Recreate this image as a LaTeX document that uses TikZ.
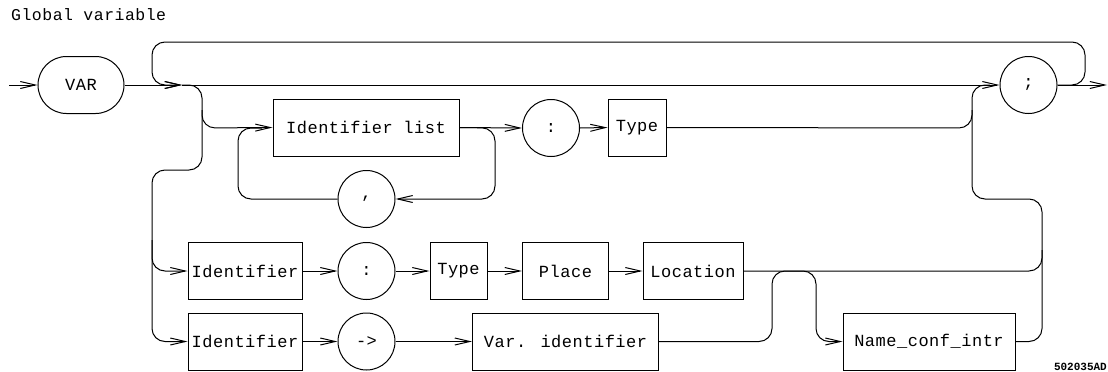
\documentclass[tikz,border=0pt]{standalone}
\usepackage{fontspec}
\newfontfamily\plotfont[LetterSpace=3]{Liberation Mono}
\newfontfamily\tagfont{Liberation Mono}
\usetikzlibrary{arrows.meta}

\tikzset{
  wire/.style={line width=1pt, rounded corners=13pt},
  flow/.style={wire, -{Straight Barb[length=15pt,width=7pt]}},
  term/.style={draw, line width=1pt, minimum height=57pt, inner sep=0pt,
               font=\plotfont\fontsize{17}{17}\selectfont},
  boxnode/.style={term, rectangle},
  ringnode/.style={term, circle, minimum size=57pt},
  capnode/.style={term, rectangle, rounded corners=28.5pt},
}

\begin{document}
\begin{tikzpicture}[x=1pt, y=-1pt]
\useasboundingbox (0,0) rectangle (1108,372);

% heading and tag
\node[anchor=base west, inner sep=0pt, font=\plotfont\fontsize{16.5}{16.5}\selectfont]
  (title) at (11,20.5) {Global variable};
\node[anchor=base east, inner sep=0pt, font=\tagfont\bfseries\fontsize{11}{11}\selectfont]
  (tag) at (1107,370) {502035AD};

% terminals and nonterminals
\node[capnode, minimum width=86pt] (var) at (81,85) {VAR};
\node[boxnode, minimum width=186pt] (idlist) at (366,127.5) {Identifier list};
\node[ringnode] (colA) at (551,128) {:};
\node[boxnode, minimum width=58pt] (typeA) at (637,127.5) {Type};
\node[ringnode] (comma) at (366.5,199) {,};
\node[ringnode] (semi) at (1028.5,85) {;};
\node[boxnode, minimum width=114pt] (idB) at (245,271) {Identifier};
\node[ringnode] (colB) at (366.5,271) {:};
\node[boxnode, minimum width=57pt] (typeB) at (458.5,271) {Type};
\node[boxnode, minimum width=86pt] (place) at (565.5,271) {Place};
\node[boxnode, minimum width=100pt] (loc) at (693,271) {Location};
\node[boxnode, minimum width=114pt] (idC) at (245,341.5) {Identifier};
\node[ringnode] (deref) at (366.5,341.5) {->};
\node[boxnode, minimum width=186pt] (varid) at (565.5,341.5) {Var. identifier};
\node[boxnode, minimum width=172pt] (nci) at (929,341.5) {Name\_conf\_intr};

\coordinate (start) at (9,85);
\coordinate (j0) at (182,85);
\coordinate (finish) at (1107,85);

% main line
\draw[flow] (start) -- (var.west);
\draw[flow] (var.east) -- (j0);
\draw[flow] (j0) -- (semi.west);
\draw[flow] (semi.east) -- (finish);
% repetition loop over the top
\draw[flow] (semi.east) -- (1085,85) -- (1085,42) -- (152,42) -- (152,85) -- (j0);

% left branching
\draw[flow] (j0) -- (202,85) -- (202,128) -- (idlist.west);
\draw[flow] (202,110) -- (202,170) -- (152,170) -- (152,341.5) -- (idC.west);
\draw[flow] (152,240) -- (152,271) -- (idB.west);

% identifier list with comma loop
\draw[flow] (idlist.east) -- (495,128) -- (495,199) -- (comma.east);
\draw[wire] (comma.west) -- (238,199) -- (238,128) -- (262,128);
\draw[flow] (idlist.east) -- (colA.west);
\draw[flow] (colA.east) -- (typeA.west);
\draw[wire] (typeA.east) -- (972,128) -- (972,85) -- (990,85);

% located variable
\draw[flow] (idB.east) -- (colB.west);
\draw[flow] (colB.east) -- (typeB.west);
\draw[flow] (typeB.east) -- (place.west);
\draw[flow] (place.east) -- (loc.west);

% dereferenced variable
\draw[flow] (idC.east) -- (deref.west);
\draw[flow] (deref.east) -- (varid.west);
\draw[flow] (varid.east) -- (772,341.5) -- (772,271) -- (816,271) -- (816,341.5) -- (nci.west);

% right merging column
\draw[wire] (972,110) -- (972,199) -- (1042,199) -- (1042,341.5) -- (nci.east);
\draw[wire] (loc.east) -- (1042,271) -- (1042,250);
\end{tikzpicture}
\end{document}
